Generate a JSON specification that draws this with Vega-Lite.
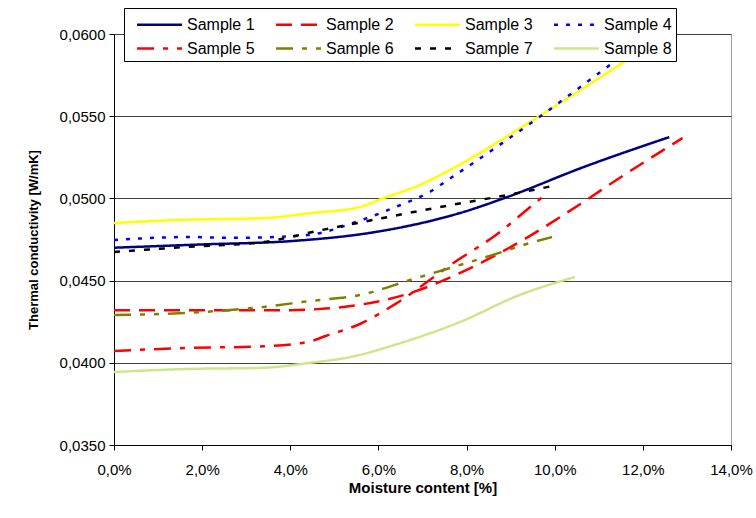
{
  "$schema": "https://vega.github.io/schema/vega-lite/v6.json",
  "width": 617,
  "height": 411,
  "autosize": {"type": "none"},
  "padding": {"left": 114, "top": 34, "right": 25, "bottom": 73},
  "background": "white",
  "config": {
    "font": "Liberation Sans",
    "view": {"stroke": "#a0a0a0", "strokeWidth": 1},
    "axis": {"labelFont": "Liberation Sans", "titleFont": "Liberation Sans", "labelColor": "#000", "titleColor": "#000"}
  },
  "data": {
    "values": [
      {"s": "Sample 1", "x": 0.0, "y": 0.0470},
      {"s": "Sample 1", "x": 0.02, "y": 0.0472},
      {"s": "Sample 1", "x": 0.04, "y": 0.0474},
      {"s": "Sample 1", "x": 0.058, "y": 0.0479},
      {"s": "Sample 1", "x": 0.0656, "y": 0.04826},
      {"s": "Sample 1", "x": 0.0785, "y": 0.04911},
      {"s": "Sample 1", "x": 0.0892, "y": 0.05008},
      {"s": "Sample 1", "x": 0.1065, "y": 0.0519},
      {"s": "Sample 1", "x": 0.126, "y": 0.05373},

      {"s": "Sample 2", "x": 0.0, "y": 0.0432},
      {"s": "Sample 2", "x": 0.02, "y": 0.0432},
      {"s": "Sample 2", "x": 0.04, "y": 0.0432},
      {"s": "Sample 2", "x": 0.048, "y": 0.0433},
      {"s": "Sample 2", "x": 0.055, "y": 0.0435},
      {"s": "Sample 2", "x": 0.0672, "y": 0.04424},
      {"s": "Sample 2", "x": 0.077, "y": 0.04528},
      {"s": "Sample 2", "x": 0.0928, "y": 0.04747},
      {"s": "Sample 2", "x": 0.1065, "y": 0.04978},
      {"s": "Sample 2", "x": 0.114, "y": 0.05112},
      {"s": "Sample 2", "x": 0.129, "y": 0.05367},

      {"s": "Sample 3", "x": 0.0, "y": 0.0485},
      {"s": "Sample 3", "x": 0.016, "y": 0.0487},
      {"s": "Sample 3", "x": 0.034, "y": 0.0488},
      {"s": "Sample 3", "x": 0.0445, "y": 0.0491},
      {"s": "Sample 3", "x": 0.0558, "y": 0.04948},
      {"s": "Sample 3", "x": 0.061, "y": 0.0500},
      {"s": "Sample 3", "x": 0.0694, "y": 0.05082},
      {"s": "Sample 3", "x": 0.0762, "y": 0.05173},
      {"s": "Sample 3", "x": 0.0962, "y": 0.05495},
      {"s": "Sample 3", "x": 0.1164, "y": 0.05842},
      {"s": "Sample 3", "x": 0.122, "y": 0.0594},

      {"s": "Sample 4", "x": 0.0, "y": 0.04747},
      {"s": "Sample 4", "x": 0.017, "y": 0.04765},
      {"s": "Sample 4", "x": 0.027, "y": 0.0476},
      {"s": "Sample 4", "x": 0.0438, "y": 0.04777},
      {"s": "Sample 4", "x": 0.0558, "y": 0.04865},
      {"s": "Sample 4", "x": 0.065, "y": 0.0496},
      {"s": "Sample 4", "x": 0.0717, "y": 0.0504},
      {"s": "Sample 4", "x": 0.0762, "y": 0.0512},
      {"s": "Sample 4", "x": 0.0962, "y": 0.05489},
      {"s": "Sample 4", "x": 0.1125, "y": 0.05811},
      {"s": "Sample 4", "x": 0.118, "y": 0.0592},

      {"s": "Sample 5", "x": 0.0, "y": 0.04072},
      {"s": "Sample 5", "x": 0.016, "y": 0.0409},
      {"s": "Sample 5", "x": 0.034, "y": 0.0410},
      {"s": "Sample 5", "x": 0.0445, "y": 0.0413},
      {"s": "Sample 5", "x": 0.048, "y": 0.04163},
      {"s": "Sample 5", "x": 0.0558, "y": 0.04236},
      {"s": "Sample 5", "x": 0.0642, "y": 0.04364},
      {"s": "Sample 5", "x": 0.077, "y": 0.04607},
      {"s": "Sample 5", "x": 0.0876, "y": 0.04796},
      {"s": "Sample 5", "x": 0.0928, "y": 0.04911},
      {"s": "Sample 5", "x": 0.0978, "y": 0.05021},

      {"s": "Sample 6", "x": 0.0, "y": 0.04291},
      {"s": "Sample 6", "x": 0.016, "y": 0.04303},
      {"s": "Sample 6", "x": 0.034, "y": 0.0434},
      {"s": "Sample 6", "x": 0.0445, "y": 0.04376},
      {"s": "Sample 6", "x": 0.0558, "y": 0.04412},
      {"s": "Sample 6", "x": 0.0672, "y": 0.04504},
      {"s": "Sample 6", "x": 0.077, "y": 0.04583},
      {"s": "Sample 6", "x": 0.0876, "y": 0.0467},
      {"s": "Sample 6", "x": 0.0928, "y": 0.04716},
      {"s": "Sample 6", "x": 0.0994, "y": 0.04765},

      {"s": "Sample 7", "x": 0.0, "y": 0.04674},
      {"s": "Sample 7", "x": 0.016, "y": 0.04704},
      {"s": "Sample 7", "x": 0.034, "y": 0.04735},
      {"s": "Sample 7", "x": 0.0472, "y": 0.04808},
      {"s": "Sample 7", "x": 0.0588, "y": 0.04869},
      {"s": "Sample 7", "x": 0.0656, "y": 0.04905},
      {"s": "Sample 7", "x": 0.079, "y": 0.04972},
      {"s": "Sample 7", "x": 0.0892, "y": 0.0502},
      {"s": "Sample 7", "x": 0.0994, "y": 0.05075},

      {"s": "Sample 8", "x": 0.0, "y": 0.03944},
      {"s": "Sample 8", "x": 0.016, "y": 0.03962},
      {"s": "Sample 8", "x": 0.034, "y": 0.0397},
      {"s": "Sample 8", "x": 0.0445, "y": 0.0400},
      {"s": "Sample 8", "x": 0.0536, "y": 0.04035},
      {"s": "Sample 8", "x": 0.065, "y": 0.0412},
      {"s": "Sample 8", "x": 0.0785, "y": 0.04248},
      {"s": "Sample 8", "x": 0.092, "y": 0.04412},
      {"s": "Sample 8", "x": 0.1046, "y": 0.04522}
    ]
  },
  "mark": {"type": "line", "interpolate": "monotone", "strokeWidth": 2.5, "clip": true},
  "encoding": {
    "x": {
      "field": "x", "type": "quantitative",
      "scale": {"domain": [0, 0.14], "nice": false, "zero": false},
      "axis": {
        "values": [0, 0.02, 0.04, 0.06, 0.08, 0.1, 0.12, 0.14],
        "labelExpr": "replace(format(datum.value, '.1%'), '.', ',')",
        "title": "Moisture content [%]",
        "titleFontSize": 15, "titleFontWeight": "bold", "titlePadding": 3,
        "labelFontSize": 15, "labelPadding": 12,
        "grid": false, "domainColor": "#000", "tickColor": "#000", "tickSize": 5,
        "labelFlush": false, "labelOverlap": false
      }
    },
    "y": {
      "field": "y", "type": "quantitative",
      "scale": {"domain": [0.035, 0.06], "nice": false, "zero": false},
      "axis": {
        "values": [0.035, 0.04, 0.045, 0.05, 0.055, 0.06],
        "labelExpr": "replace(format(datum.value, '.4f'), '.', ',')",
        "title": "Thermal conductivity [W/mK]",
        "titleFontSize": 13, "titleFontWeight": "bold", "titlePadding": 19,
        "labelFontSize": 15, "labelPadding": 4,
        "grid": true, "gridColor": "#404040", "gridWidth": 1,
        "domainColor": "#000", "tickColor": "#000", "tickSize": 5,
        "labelFlush": false, "labelOverlap": false
      }
    },
    "color": {
      "field": "s", "type": "nominal",
      "scale": {
        "domain": ["Sample 1", "Sample 2", "Sample 3", "Sample 4", "Sample 5", "Sample 6", "Sample 7", "Sample 8"],
        "range": ["#000080", "#FF0000", "#FFFF00", "#0000FF", "#FF0000", "#808000", "#000000", "#CCE68C"]
      },
      "legend": {
        "title": null, "orient": "none", "legendX": 10, "legendY": -26,
        "direction": "horizontal", "columns": 4,
        "symbolType": "M-2,0H2", "symbolSize": 506, "symbolStrokeWidth": 2.5, "symbolOffset": 19,
        "labelFontSize": 16, "labelFont": "Liberation Sans", "labelColor": "#000", "labelOffset": 15,
        "columnPadding": 12, "rowPadding": 3, "padding": 4,
        "strokeColor": "#000", "fillColor": "#fff"
      }
    },
    "strokeDash": {
      "field": "s", "type": "nominal",
      "scale": {
        "domain": ["Sample 1", "Sample 2", "Sample 3", "Sample 4", "Sample 5", "Sample 6", "Sample 7", "Sample 8"],
        "range": [[1, 0], [16, 9], [1, 0], [4, 8], [17, 9, 5, 9], [17, 9, 5, 9, 5, 9], [6, 9], [1, 0]]
      },
      "legend": {
        "title": null, "orient": "none", "legendX": 10, "legendY": -26,
        "direction": "horizontal", "columns": 4,
        "symbolType": "M-2,0H2", "symbolSize": 506, "symbolStrokeWidth": 2.5, "symbolOffset": 19,
        "labelFontSize": 16, "labelFont": "Liberation Sans", "labelColor": "#000", "labelOffset": 15,
        "columnPadding": 12, "rowPadding": 3, "padding": 4,
        "strokeColor": "#000", "fillColor": "#fff"
      }
    }
  }
}
